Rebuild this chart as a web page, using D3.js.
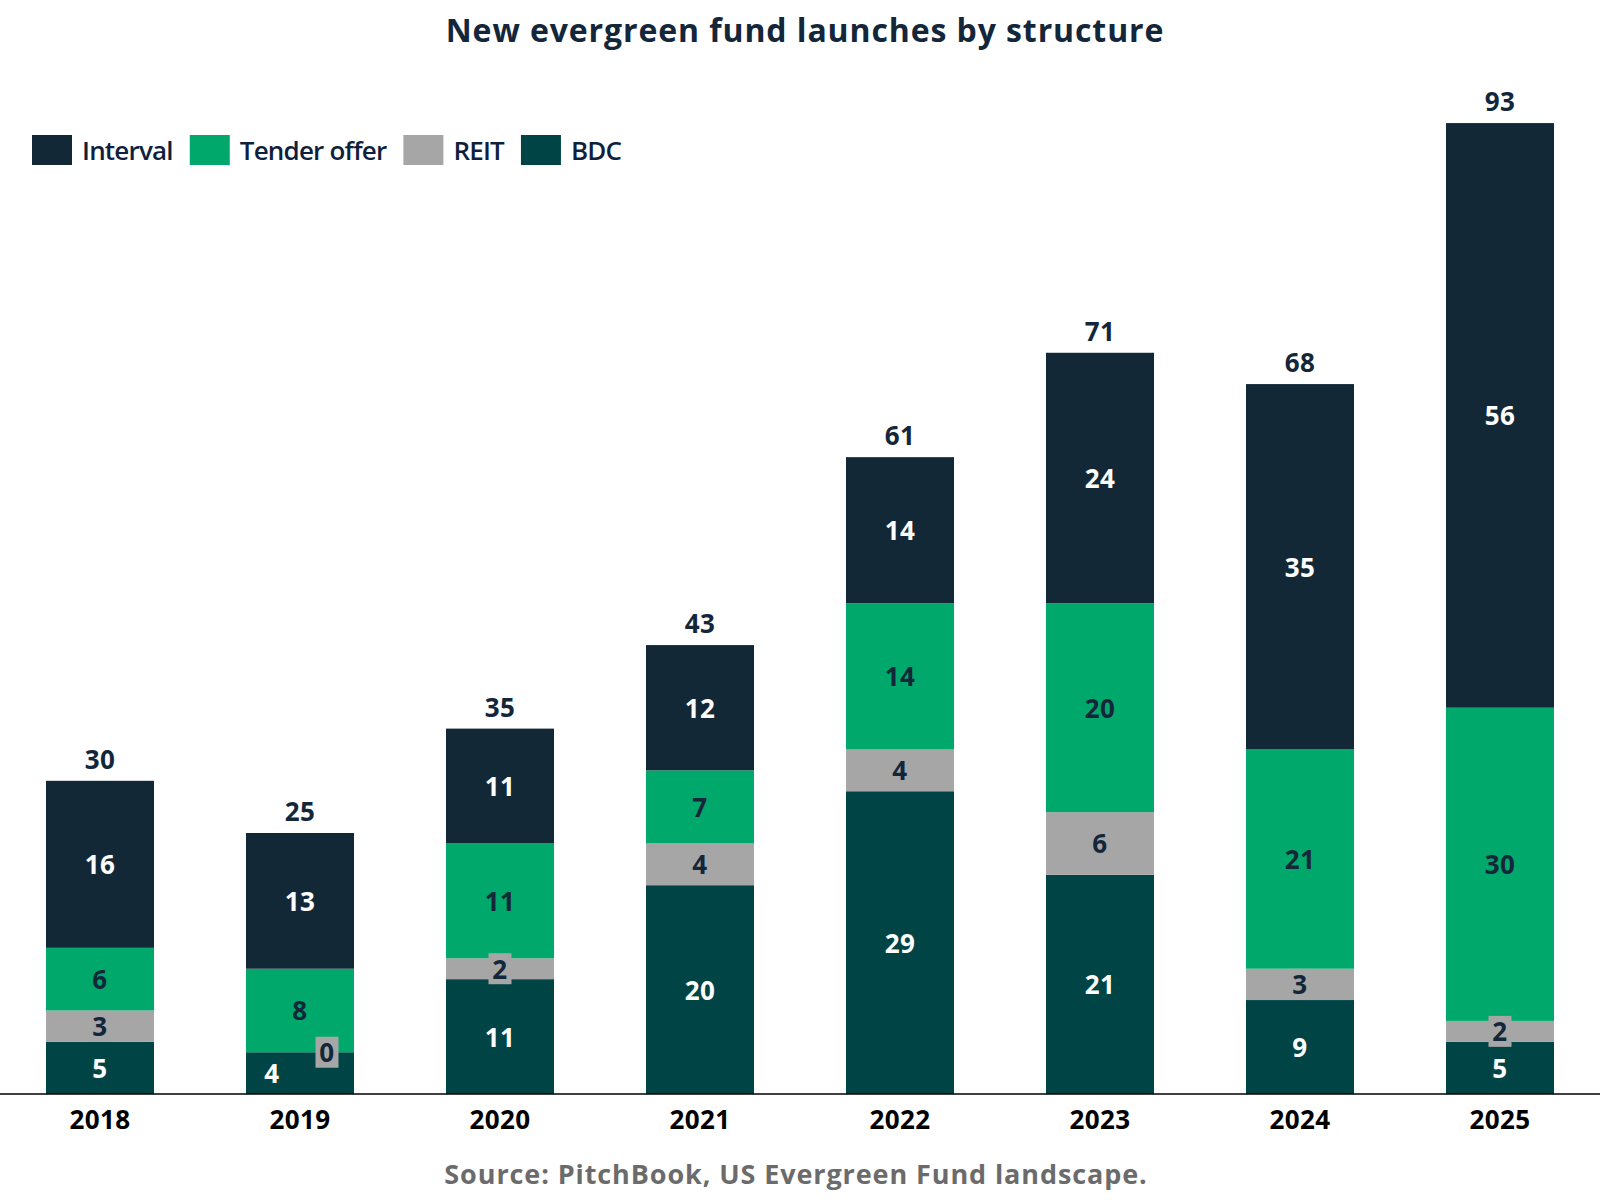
<!DOCTYPE html>
<html>
<head>
<meta charset="utf-8">
<script src="https://cdn.jsdelivr.net/npm/d3@7"></script>
<style>
  body { margin: 0; background: #fff; }
  text { font-family: "Open Sans", sans-serif; }
</style>
</head>
<body>
<div id="chart"></div>
<script>
// chart data
var years = ["2018", "2019", "2020", "2021", "2022", "2023", "2024", "2025"];
var interval = [16, 13, 11, 12, 14, 24, 35, 56];
var tender = [6, 8, 11, 7, 14, 20, 21, 30];
var reit = [3, 0, 2, 4, 4, 6, 3, 2];
var bdc = [5, 4, 11, 20, 29, 21, 9, 5];

var keys = ["BDC", "REIT", "Tender offer", "Interval"];
var legendKeys = ["Interval", "Tender offer", "REIT", "BDC"];

var width = 1600, height = 1200;
var baseY = 1094;

var color = d3.scaleOrdinal()
    .domain(keys)
    .range(["#004446", "#a6a6a6", "#00a96b", "#132836"]);

var labelColor = { "BDC": "#ffffff", "REIT": "#13263a", "Tender offer": "#13263a", "Interval": "#ffffff" };

// build rows for the stack
var data = years.map(function (yr, i) {
    return { year: yr, "BDC": bdc[i], "REIT": reit[i], "Tender offer": tender[i], "Interval": interval[i] };
});
var stackedData = d3.stack().keys(keys)(data);

var svg = d3.select("#chart")
    .append("svg")
    .attr("width", width)
    .attr("height", height);

var x = d3.scaleBand()
    .domain(years)
    .range([0, width])
    .paddingInner(0.46)
    .paddingOuter(0.23);

var y = d3.scaleLinear()
    .domain([0, 100])
    .range([baseY, 50]);

// title
svg.append("text")
    .attr("x", 805)
    .attr("y", 29)
    .attr("text-anchor", "middle")
    .attr("dominant-baseline", "central")
    .style("font-size", "32px")
    .style("font-weight", 700)
    .style("letter-spacing", "0.9px")
    .attr("fill", "#13263a")
    .text("New evergreen fund launches by structure");

// bars
var layers = svg.selectAll(".layer")
    .data(stackedData)
    .enter()
    .append("g")
    .attr("class", "layer")
    .attr("fill", function (d) { return color(d.key); });

layers.selectAll("rect")
    .data(function (d) { return d; })
    .enter()
    .append("rect")
    .attr("x", function (d) { return x(d.data.year); })
    .attr("y", function (d) { return y(d[1]); })
    .attr("width", x.bandwidth())
    .attr("height", function (d) { return y(d[0]) - y(d[1]); });

// segment labels
stackedData.forEach(function (layer) {
    layer.forEach(function (d, i) {
        var val = d[1] - d[0];
        var cx = x(d.data.year) + x.bandwidth() / 2;
        var cy = (y(d[0]) + y(d[1])) / 2;
        // a zero REIT pushes its label right and the BDC label left
        if (layer.key === "REIT" && val === 0) cx += 27;
        if (layer.key === "BDC" && reit[i] === 0) cx -= 28;

        var g = svg.append("g");
        if (layer.key === "REIT") {
            g.append("rect")
                .attr("x", cx - 11.5)
                .attr("y", cy - 15.5)
                .attr("width", 23)
                .attr("height", 31)
                .attr("fill", color("REIT"));
        }
        g.append("text")
            .attr("x", cx)
            .attr("y", cy)
            .attr("text-anchor", "middle")
            .attr("dominant-baseline", "central")
            .style("font-size", "26px")
            .style("font-weight", 700)
            .style("letter-spacing", "0.5px")
            .attr("fill", labelColor[layer.key])
            .text(val);
    });
});

// totals on top
svg.selectAll(".total")
    .data(data)
    .enter()
    .append("text")
    .attr("class", "total")
    .attr("x", function (d) { return x(d.year) + x.bandwidth() / 2; })
    .attr("y", function (d) { return y(d["BDC"] + d["REIT"] + d["Tender offer"] + d["Interval"]) - 22; })
    .attr("text-anchor", "middle")
    .attr("dominant-baseline", "central")
    .style("font-size", "26px")
    .style("font-weight", 700)
    .style("letter-spacing", "0.5px")
    .attr("fill", "#13263a")
    .text(function (d) { return d["BDC"] + d["REIT"] + d["Tender offer"] + d["Interval"]; });

// x axis
var xAxis = svg.append("g")
    .attr("transform", "translate(0," + baseY + ")")
    .call(d3.axisBottom(x).tickSize(0).tickPadding(17));

xAxis.select(".domain")
    .attr("d", "M0,0H" + width)
    .attr("stroke", "#000")
    .attr("stroke-width", 1.5);

xAxis.selectAll("text")
    .style("font-family", "Open Sans, sans-serif")
    .style("font-size", "26px")
    .style("font-weight", 700)
    .style("letter-spacing", "0.4px")
    .attr("fill", "#000");

// legend
var legend = svg.append("g").attr("transform", "translate(32,135)");
var lx = 0;
legendKeys.forEach(function (k) {
    legend.append("rect")
        .attr("x", lx)
        .attr("y", 0)
        .attr("width", 40)
        .attr("height", 30)
        .attr("fill", color(k));
    var t = legend.append("text")
        .attr("x", lx + 50)
        .attr("y", 15)
        .attr("dominant-baseline", "central")
        .style("font-size", "26px")
        .style("font-weight", 650)
        .style("letter-spacing", "-0.8px")
        .attr("fill", "#0f1f3d")
        .text(k);
    lx += 50 + t.node().getComputedTextLength() + 17;
});

// source
svg.append("text")
    .attr("x", 796)
    .attr("y", 1173)
    .attr("text-anchor", "middle")
    .attr("dominant-baseline", "central")
    .style("font-size", "27px")
    .style("font-weight", 700)
    .style("letter-spacing", "0.9px")
    .attr("fill", "#6b6b6b")
    .text("Source: PitchBook, US Evergreen Fund landscape.");
</script>
</body>
</html>
